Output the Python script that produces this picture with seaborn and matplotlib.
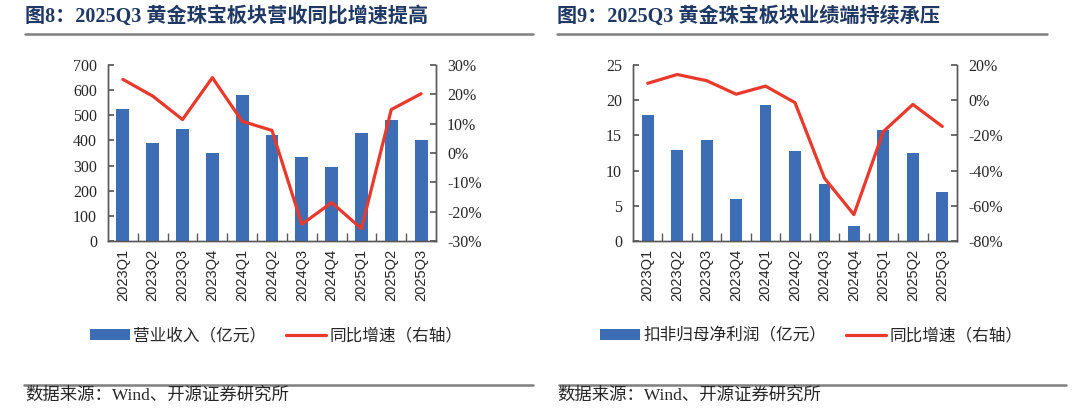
import numpy as np
import pandas as pd
import matplotlib.pyplot as plt
import seaborn as sns
from matplotlib.lines import Line2D
from matplotlib.patches import Patch
from matplotlib.ticker import FuncFormatter

# data
quarters = ['2023Q1', '2023Q2', '2023Q3', '2023Q4', '2024Q1', '2024Q2',
            '2024Q3', '2024Q4', '2025Q1', '2025Q2', '2025Q3']
revenue = [524, 391, 444, 349, 582, 422, 334, 293, 430, 483, 403]
revenue_yoy = [0.251, 0.194, 0.114, 0.257, 0.108, 0.077, -0.243, -0.169, -0.258, 0.148, 0.202]
profit = [17.9, 12.9, 14.4, 6.0, 19.3, 12.8, 8.1, 2.2, 15.7, 12.5, 6.9]
profit_yoy = [0.096, 0.146, 0.111, 0.034, 0.080, -0.014, -0.443, -0.650, -0.178, -0.024, -0.149]

titles = ['图8：2025Q3 黄金珠宝板块营收同比增速提高',
          '图9：2025Q3 黄金珠宝板块业绩端持续承压']
bar_labels = ['营业收入（亿元）', '扣非归母净利润（亿元）']
line_label = '同比增速（右轴）'
source = '数据来源：Wind、开源证券研究所'

sns.set_theme(style='white')
plt.rcParams['font.family'] = ['Liberation Serif', 'Noto Sans CJK SC', 'DejaVu Sans']

BAR_C = '#3D6DB5'
LINE_C = '#E8392B'
SPINE_C = '#595959'
W, H = 1080, 409

fig = plt.figure(figsize=(10.8, 4.09), dpi=100)


def px(x, y):
    return x / W, 1 - y / H


def panel(left_px, right_px, vals, yoy, ylim, ystep, rlim, rstep, bw, title, blabel,
          title_x, title_line, sep_line, legend_x):
    x0, _ = px(left_px, 0)
    x1, _ = px(right_px, 0)
    ax = fig.add_axes([x0, 1 - 241 / H, x1 - x0, 176 / H])
    df = pd.DataFrame({'q': quarters, 'v': vals})
    sns.barplot(data=df, x='q', y='v', ax=ax, color=BAR_C, saturation=1,
                width=bw, linewidth=0)
    ax2 = ax.twinx()
    sns.lineplot(x=np.arange(len(quarters)), y=yoy, ax=ax2, color=LINE_C,
                 linewidth=2.3)
    ax.set_xlim(-0.5, len(quarters) - 0.5)
    ax.set_ylim(*ylim)
    ax.set_yticks(np.arange(ylim[0], ylim[1] + ystep / 2, ystep))
    ax2.set_ylim(*rlim)
    ax2.set_yticks(np.arange(rlim[0], rlim[1] + rstep / 2, rstep))
    ax2.yaxis.set_major_formatter(FuncFormatter(lambda v, p: f'{int(round(v * 100))}%'))
    ax.set_xlabel('')
    ax.set_ylabel('')
    ax2.set_ylabel('')
    ax.set_xticks(np.arange(len(quarters)))
    ax.set_xticklabels(quarters, rotation=90, fontsize=10.5,
                       family=['Liberation Sans', 'DejaVu Sans'])
    ax.set_xticks(np.arange(0.5, len(quarters) - 1, 1), minor=True)
    ax.tick_params(axis='x', which='major', length=0, pad=6)
    ax.tick_params(axis='x', which='minor', direction='in', length=6,
                   color=SPINE_C, width=1, bottom=True)
    ax.tick_params(axis='y', direction='in', length=4, color=SPINE_C,
                   labelsize=11.5, left=True, pad=8)
    ax2.tick_params(axis='y', direction='in', length=4, color=SPINE_C,
                    labelsize=11.5, right=True, pad=8)
    for a in (ax, ax2):
        a.spines['top'].set_visible(False)
        for s in ('left', 'right', 'bottom'):
            a.spines[s].set_color(SPINE_C)
            a.spines[s].set_linewidth(1)
        a.grid(False)

    # title, rules, legend, source
    tx, ty = px(title_x, 17)
    fig.text(tx, ty, title, fontsize=14.5, fontweight='bold', color='#1F3864',
             va='center', ha='left')
    fig.add_artist(Line2D([title_line[0] / W, title_line[1] / W], [1 - 34 / H] * 2,
                          color='#7F7F7F', linewidth=1.8))
    fig.add_artist(Line2D([sep_line[0] / W, sep_line[1] / W], [1 - 385 / H] * 2,
                          color='#7F7F7F', linewidth=1.8))
    sx, sy = px(title_x, 396)
    fig.text(sx, sy, source, fontsize=12.5, va='center', ha='left')
    handles = [Patch(facecolor=BAR_C, edgecolor='none', label=blabel),
               Line2D([], [], color=LINE_C, linewidth=2.3, label=line_label)]
    lx, ly = px(legend_x, 336)
    fig.legend(handles=handles, loc='center', bbox_to_anchor=(lx, ly), ncol=2,
               frameon=False, fontsize=12, handlelength=2.4, handleheight=0.6,
               handletextpad=0.2, columnspacing=1.2,
               prop={'family': ['Noto Sans CJK SC', 'DejaVu Sans'], 'size': 12})


panel(108, 436, revenue, revenue_yoy, (0, 700), 100, (-0.3, 0.3), 0.1, 0.43,
      titles[0], bar_labels[0], 25, (25, 533), (24, 533), 276)
panel(633, 957, profit, profit_yoy, (0, 25), 5, (-0.8, 0.2), 0.2, 0.40,
      titles[1], bar_labels[1], 557, (557, 1047), (559, 1066), 811)

fig.savefig('out.png', dpi=100)
